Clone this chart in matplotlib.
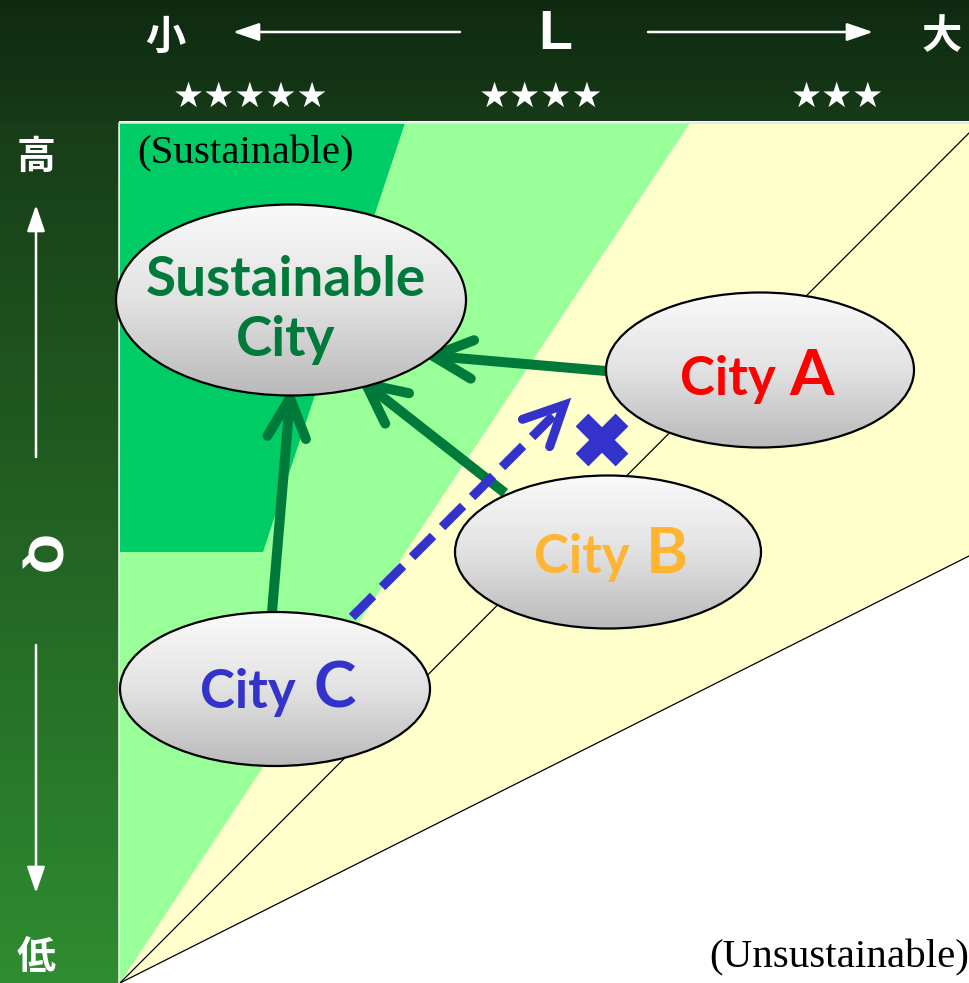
import numpy as np
import matplotlib.pyplot as plt
from matplotlib.patches import Polygon, Ellipse
from matplotlib.colors import LinearSegmentedColormap

# ------------------------------------------------------------
# Labels / text content
# ------------------------------------------------------------
goal_lines = ["Sustainable", "City"]
city_words = ["City", "City", "City"]
city_letters = ["A", "B", "C"]
city_colors = ["#ff0000", "#ffb432", "#3333cc"]
x_axis_labels = ["小", "L", "大"]
y_axis_labels = ["高", "Q", "低"]
star_labels = ["★★★★★", "★★★★", "★★★"]
zone_labels = ["(Sustainable)", "(Unsustainable)"]

W, H = 969, 983
GREEN = "#007a3a"
BLUE = "#3333cc"

fig = plt.figure(figsize=(W / 100, H / 100), dpi=100)
ax = fig.add_axes([0, 0, 1, 1])


def vgrad(extent, c_top, c_bot, z):
    cmap = LinearSegmentedColormap.from_list("g", [c_top, c_bot])
    g = np.linspace(0, 1, 256)[:, None]
    return ax.imshow(g, cmap=cmap, extent=extent, aspect="auto",
                     interpolation="bilinear", zorder=z)


# ------------------------------------------------------------
# Frame bands
# ------------------------------------------------------------
vgrad([0, W, 121, 0], "#0f2a10", "#163a17", 0)
vgrad([0, 119, H, 121], "#183d18", "#2f8c30", 0)

# ------------------------------------------------------------
# Zones
# ------------------------------------------------------------
ax.add_patch(Polygon([(120, 123), (W, 123), (W, H), (120, H)],
                     closed=True, fc="white", ec="none", zorder=1))
ax.add_patch(Polygon([(690, 123), (W, 123), (W, 556), (120, H)],
                     closed=True, fc="#ffffcc", ec="none", zorder=1))
ax.add_patch(Polygon([(120, 123), (690, 123), (120, H)],
                     closed=True, fc="#99ff99", ec="none", zorder=1))
ax.add_patch(Polygon([(120, 123), (405, 123), (263, 552), (120, 552)],
                     closed=True, fc="#00cc66", ec="none", zorder=1))
ax.plot([120, W], [H, 133], color="black", lw=0.9, zorder=2)
ax.plot([120, W], [H, 556], color="black", lw=0.9, zorder=2)
ax.plot([119.5, 119.5, W], [H, 122.5, 122.5], color="#dfe8df", lw=1.2, zorder=2)

ax.text(137, 163, zone_labels[0], family="Liberation Serif", fontsize=29.5,
        ha="left", va="baseline", color="black", zorder=3)
ax.text(W, 967, zone_labels[1], family="Liberation Serif", fontsize=29.5,
        ha="right", va="baseline", color="black", zorder=3)


# ------------------------------------------------------------
# Arrows
# ------------------------------------------------------------
def open_arrow(start, tip, color, lw, head_len=44, head_ang=26, dashes=None):
    x0, y0 = start
    x1, y1 = tip
    d = np.array([x0 - x1, y0 - y1], dtype=float)
    d /= np.hypot(*d)
    if dashes is None:
        ax.plot([x0, x1], [y0, y1], color=color, lw=lw,
                solid_capstyle="butt", zorder=6)
    else:
        ax.plot([x0, x1], [y0, y1], color=color, lw=lw,
                ls=(0, dashes), dash_capstyle="butt", zorder=6)
    pts = []
    for sgn in (1, -1):
        a = np.deg2rad(sgn * head_ang)
        r = np.array([d[0] * np.cos(a) - d[1] * np.sin(a),
                      d[0] * np.sin(a) + d[1] * np.cos(a)])
        pts.append((x1 + head_len * r[0], y1 + head_len * r[1]))
    ax.plot([pts[0][0], x1, pts[1][0]], [pts[0][1], y1, pts[1][1]],
            color=color, lw=lw, solid_capstyle="round",
            solid_joinstyle="miter", zorder=6)


open_arrow((606, 371), (433, 356), GREEN, 7.2)
open_arrow((505, 493), (366, 384), GREEN, 7.2)
open_arrow((272, 612), (290, 398), GREEN, 7.2)
open_arrow((352, 617), (564, 405), BLUE, 6.5, dashes=(3.3, 1.4))

# blocked mark
ax.plot([582, 622], [420, 460], color=BLUE, lw=13, solid_capstyle="butt", zorder=6)
ax.plot([582, 622], [460, 420], color=BLUE, lw=13, solid_capstyle="butt", zorder=6)

# ------------------------------------------------------------
# City bubbles
# ------------------------------------------------------------
bubble_cmap = LinearSegmentedColormap.from_list("b", ["#fafafa", "#e2e2e2", "#bababa"])


def bubble(cx, cy, w, h):
    e = Ellipse((cx, cy), w, h, fc="none", ec="black", lw=1.6, zorder=8)
    ax.add_patch(e)
    g = np.linspace(0, 1, 256)[:, None]
    im = ax.imshow(g, cmap=bubble_cmap, extent=[cx - w / 2, cx + w / 2, cy + h / 2, cy - h / 2],
                   aspect="auto", interpolation="bilinear", zorder=7)
    im.set_clip_path(e)


bubble(291, 300, 350, 191)
bubble(760, 370, 308, 155)
bubble(608, 552, 306, 153)
bubble(275, 689, 310, 154)

ax.text(286, 296, goal_lines[0], family="Lato", weight="bold", fontsize=39.5,
        color=GREEN, ha="center", va="baseline", zorder=9)
ax.text(286, 356, goal_lines[1], family="Lato", weight="bold", fontsize=39.5,
        color=GREEN, ha="center", va="baseline", zorder=9)

word_right = [776, 630, 296]
letter_left = [789, 646, 314]
baselines = [395, 573, 708]
for word, letter, col, xr, xl, yb in zip(city_words, city_letters, city_colors,
                                        word_right, letter_left, baselines):
    ax.text(xr, yb, word, family="Lato", weight="bold", fontsize=38,
            color=col, ha="right", va="baseline", zorder=9)
    ax.text(xl, yb, letter, family="Lato", weight="bold", fontsize=46,
            color=col, ha="left", va="baseline", zorder=9)

# ------------------------------------------------------------
# Axis annotations on the frame
# ------------------------------------------------------------
cjk = ["Noto Sans CJK JP", "DejaVu Sans"]
ax.text(165, 37, x_axis_labels[0], family=cjk, weight="bold", fontsize=29,
        color="white", ha="center", va="center", zorder=3)
ax.text(555, 35, x_axis_labels[1], family="Liberation Sans", weight="bold", fontsize=40,
        color="white", ha="center", va="center", zorder=3)
ax.text(942, 37, x_axis_labels[2], family=cjk, weight="bold", fontsize=29,
        color="white", ha="center", va="center", zorder=3)

arrow_kw = dict(arrowstyle="-|>,head_length=1.6,head_width=0.55",
                color="white", lw=1.8, shrinkA=0, shrinkB=0)
ax.annotate("", xy=(233, 32), xytext=(460, 32), arrowprops=arrow_kw, zorder=3)
ax.annotate("", xy=(873, 32), xytext=(648, 32), arrowprops=arrow_kw, zorder=3)

star_x = [251, 541, 837]
for s, sx in zip(star_labels, star_x):
    ax.text(sx, 97, s, family="DejaVu Sans", fontsize=25, color="white",
            ha="center", va="center", zorder=3)

ax.text(36, 157, y_axis_labels[0], family=cjk, weight="bold", fontsize=28,
        color="white", ha="center", va="center", zorder=3)
ax.text(38, 555, y_axis_labels[1], family="DejaVu Sans", weight="bold", fontsize=34,
        color="white", ha="center", va="center", rotation=-90, zorder=3)
ax.text(36, 958, y_axis_labels[2], family=cjk, weight="bold", fontsize=28,
        color="white", ha="center", va="center", zorder=3)
ax.annotate("", xy=(36, 205), xytext=(36, 457), arrowprops=arrow_kw, zorder=3)
ax.annotate("", xy=(36, 893), xytext=(36, 645), arrowprops=arrow_kw, zorder=3)

ax.set_xlim(0, W)
ax.set_ylim(H, 0)
ax.axis("off")

fig.savefig("out.png", dpi=100)
